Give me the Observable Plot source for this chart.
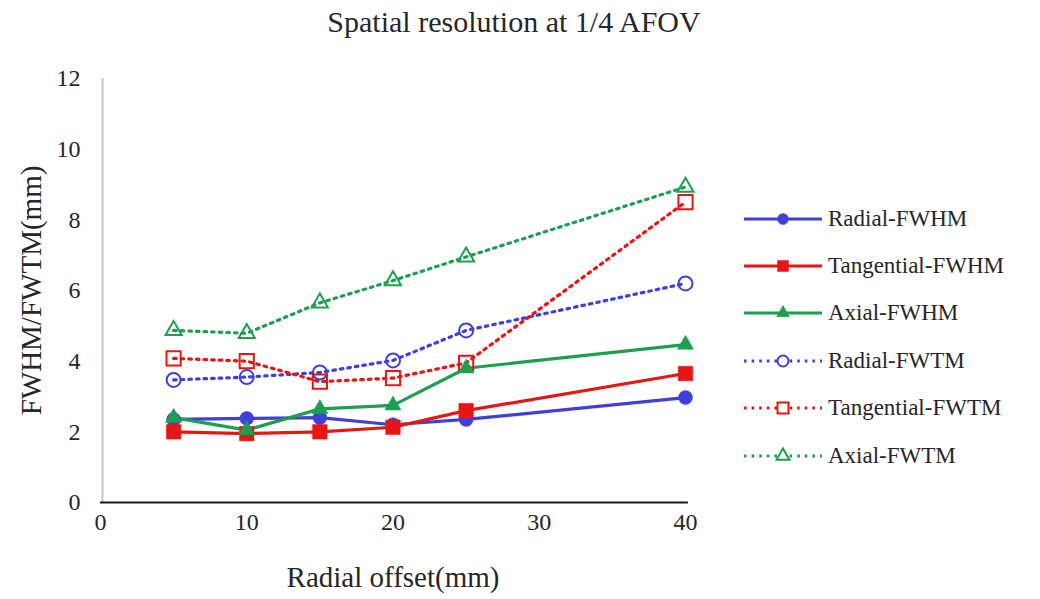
<!DOCTYPE html>
<html>
<head>
<meta charset="utf-8">
<script src="https://cdn.jsdelivr.net/npm/d3@7"></script>
<script src="https://cdn.jsdelivr.net/npm/@observablehq/plot@0.6"></script>
<style>
  html, body { margin: 0; padding: 0; background: #fff; }
  #wrap { position: relative; width: 1040px; height: 599px; font-family: "Liberation Serif", "Times New Roman", serif; }
  #legend { position: absolute; left: 742px; top: 195px; }
  .row { display: flex; align-items: center; height: 47.4px; font-size: 23px; color: #262626; }
  .row svg { display: block; margin-right: 4px; }
</style>
</head>
<body>
<div id="wrap"><div id="chart"></div><div id="legend"></div></div>
<script>
const title = "Spatial resolution at 1/4 AFOV";
const xLabel = "Radial offset(mm)";
const yLabel = "FWHM/FWTM(mm)";
const xTicks = [0, 10, 20, 30, 40];
const yTicks = [0, 2, 4, 6, 8, 10, 12];

const offsets = [5, 10, 15, 20, 25, 40];
const radialFWHM     = [2.35, 2.38, 2.40, 2.20, 2.35, 2.97];
const tangentialFWHM = [2.00, 1.95, 2.00, 2.13, 2.60, 3.65];
const axialFWHM      = [2.40, 2.05, 2.65, 2.75, 3.80, 4.47];
const radialFWTM     = [3.47, 3.55, 3.68, 4.02, 4.87, 6.20];
const tangentialFWTM = [4.08, 4.00, 3.42, 3.52, 3.95, 8.50];
const axialFWTM      = [4.87, 4.79, 5.65, 6.28, 6.95, 8.93];

const seriesNames = ["Radial-FWHM", "Tangential-FWHM", "Axial-FWHM", "Radial-FWTM", "Tangential-FWTM", "Axial-FWTM"];
const seriesValues = [radialFWHM, tangentialFWHM, axialFWHM, radialFWTM, tangentialFWTM, axialFWTM];

const BLUE = "#4040d8", RED = "#e81515", GREEN = "#1e9e50";
const styles = [
  {color: BLUE,  symbol: "circle",   r: 7,   filled: true,  dotted: false},
  {color: RED,   symbol: "square",   r: 8.2, filled: true,  dotted: false},
  {color: GREEN, symbol: "triangle", r: 6,   filled: true,  dotted: false},
  {color: BLUE,  symbol: "circle",   r: 7,   filled: false, dotted: true},
  {color: RED,   symbol: "square",   r: 8,   filled: false, dotted: true},
  {color: GREEN, symbol: "triangle", r: 6,   filled: false, dotted: true}
];

const series = seriesNames.map((name, i) => ({
  name,
  style: styles[i],
  data: offsets.map((x, j) => ({offset: x, value: seriesValues[i][j], series: name}))
}));

const TXT = "#262626";
const marks = [
  Plot.ruleX([0], {stroke: "#c4c4c4", strokeWidth: 2, dx: 2}),
  Plot.ruleY([0], {stroke: "#1a1a1a", strokeWidth: 2.2, x1: 0, x2: 40.2}),
  Plot.axisX({ticks: xTicks, tickSize: 0, tickPadding: 10, fontSize: 24, label: null, color: TXT}),
  Plot.axisY({ticks: yTicks, tickSize: 0, tickPadding: 20, fontSize: 24, label: null, color: TXT}),
  Plot.text([xLabel], {frameAnchor: "bottom", lineAnchor: "middle", dy: 75, fontSize: 29, fill: TXT}),
  Plot.text([yLabel], {frameAnchor: "left", textAnchor: "middle", lineAnchor: "middle", dx: -69, rotate: -90, fontSize: 29, fill: TXT}),
  Plot.text([title], {frameAnchor: "top", lineAnchor: "middle", dy: -56, dx: 121, fontSize: 30, fill: TXT})
];

// dotted lines first, then solid, then markers
const order = [3, 4, 5, 0, 1, 2];
for (const i of order) {
  const s = series[i];
  marks.push(Plot.line(s.data, {
    x: "offset", y: "value",
    stroke: s.style.color,
    strokeWidth: 3.2,
    strokeDasharray: s.style.dotted ? "2.6 5" : null
  }));
}
for (const i of order) {
  const s = series[i];
  marks.push(Plot.dot(s.data, {
    x: "offset", y: "value",
    symbol: () => s.style.symbol,
    r: s.style.r,
    fill: s.style.filled ? s.style.color : "none",
    stroke: s.style.color,
    strokeWidth: s.style.filled ? 0.5 : 2
  }));
}

const chart = Plot.plot({
  width: 1040,
  height: 599,
  marginLeft: 100,
  marginRight: 355,
  marginTop: 78,
  marginBottom: 97,
  style: {fontFamily: "'Liberation Serif', 'Times New Roman', serif", background: "#fff"},
  x: {domain: [0, 40]},
  y: {domain: [0, 12]},
  symbol: {type: "identity"},
  marks
});
document.getElementById("chart").appendChild(chart);

// Legend
const legend = d3.select("#legend");
const legendSymbolSize = {circle: 5.5, square: 6.2, triangle: 4.8};
series.forEach(s => {
  const row = legend.append("div").attr("class", "row");
  const svg = row.append("svg").attr("width", 82).attr("height", 24);
  svg.append("line")
    .attr("x1", 2).attr("x2", 80).attr("y1", 12).attr("y2", 12)
    .attr("stroke", s.style.color).attr("stroke-width", 3)
    .attr("stroke-dasharray", s.style.dotted ? "2.6 5" : null);
  const rr = legendSymbolSize[s.style.symbol];
  const sym = {circle: d3.symbolCircle, square: d3.symbolSquare, triangle: d3.symbolTriangle}[s.style.symbol];
  svg.append("path")
    .attr("transform", "translate(41,12)")
    .attr("d", d3.symbol(sym, rr * rr * Math.PI)())
    .attr("fill", s.style.filled ? s.style.color : "#fff")
    .attr("stroke", s.style.color)
    .attr("stroke-width", s.style.filled ? 0.5 : 2);
  row.append("span").text(s.name);
});
</script>
</body>
</html>
